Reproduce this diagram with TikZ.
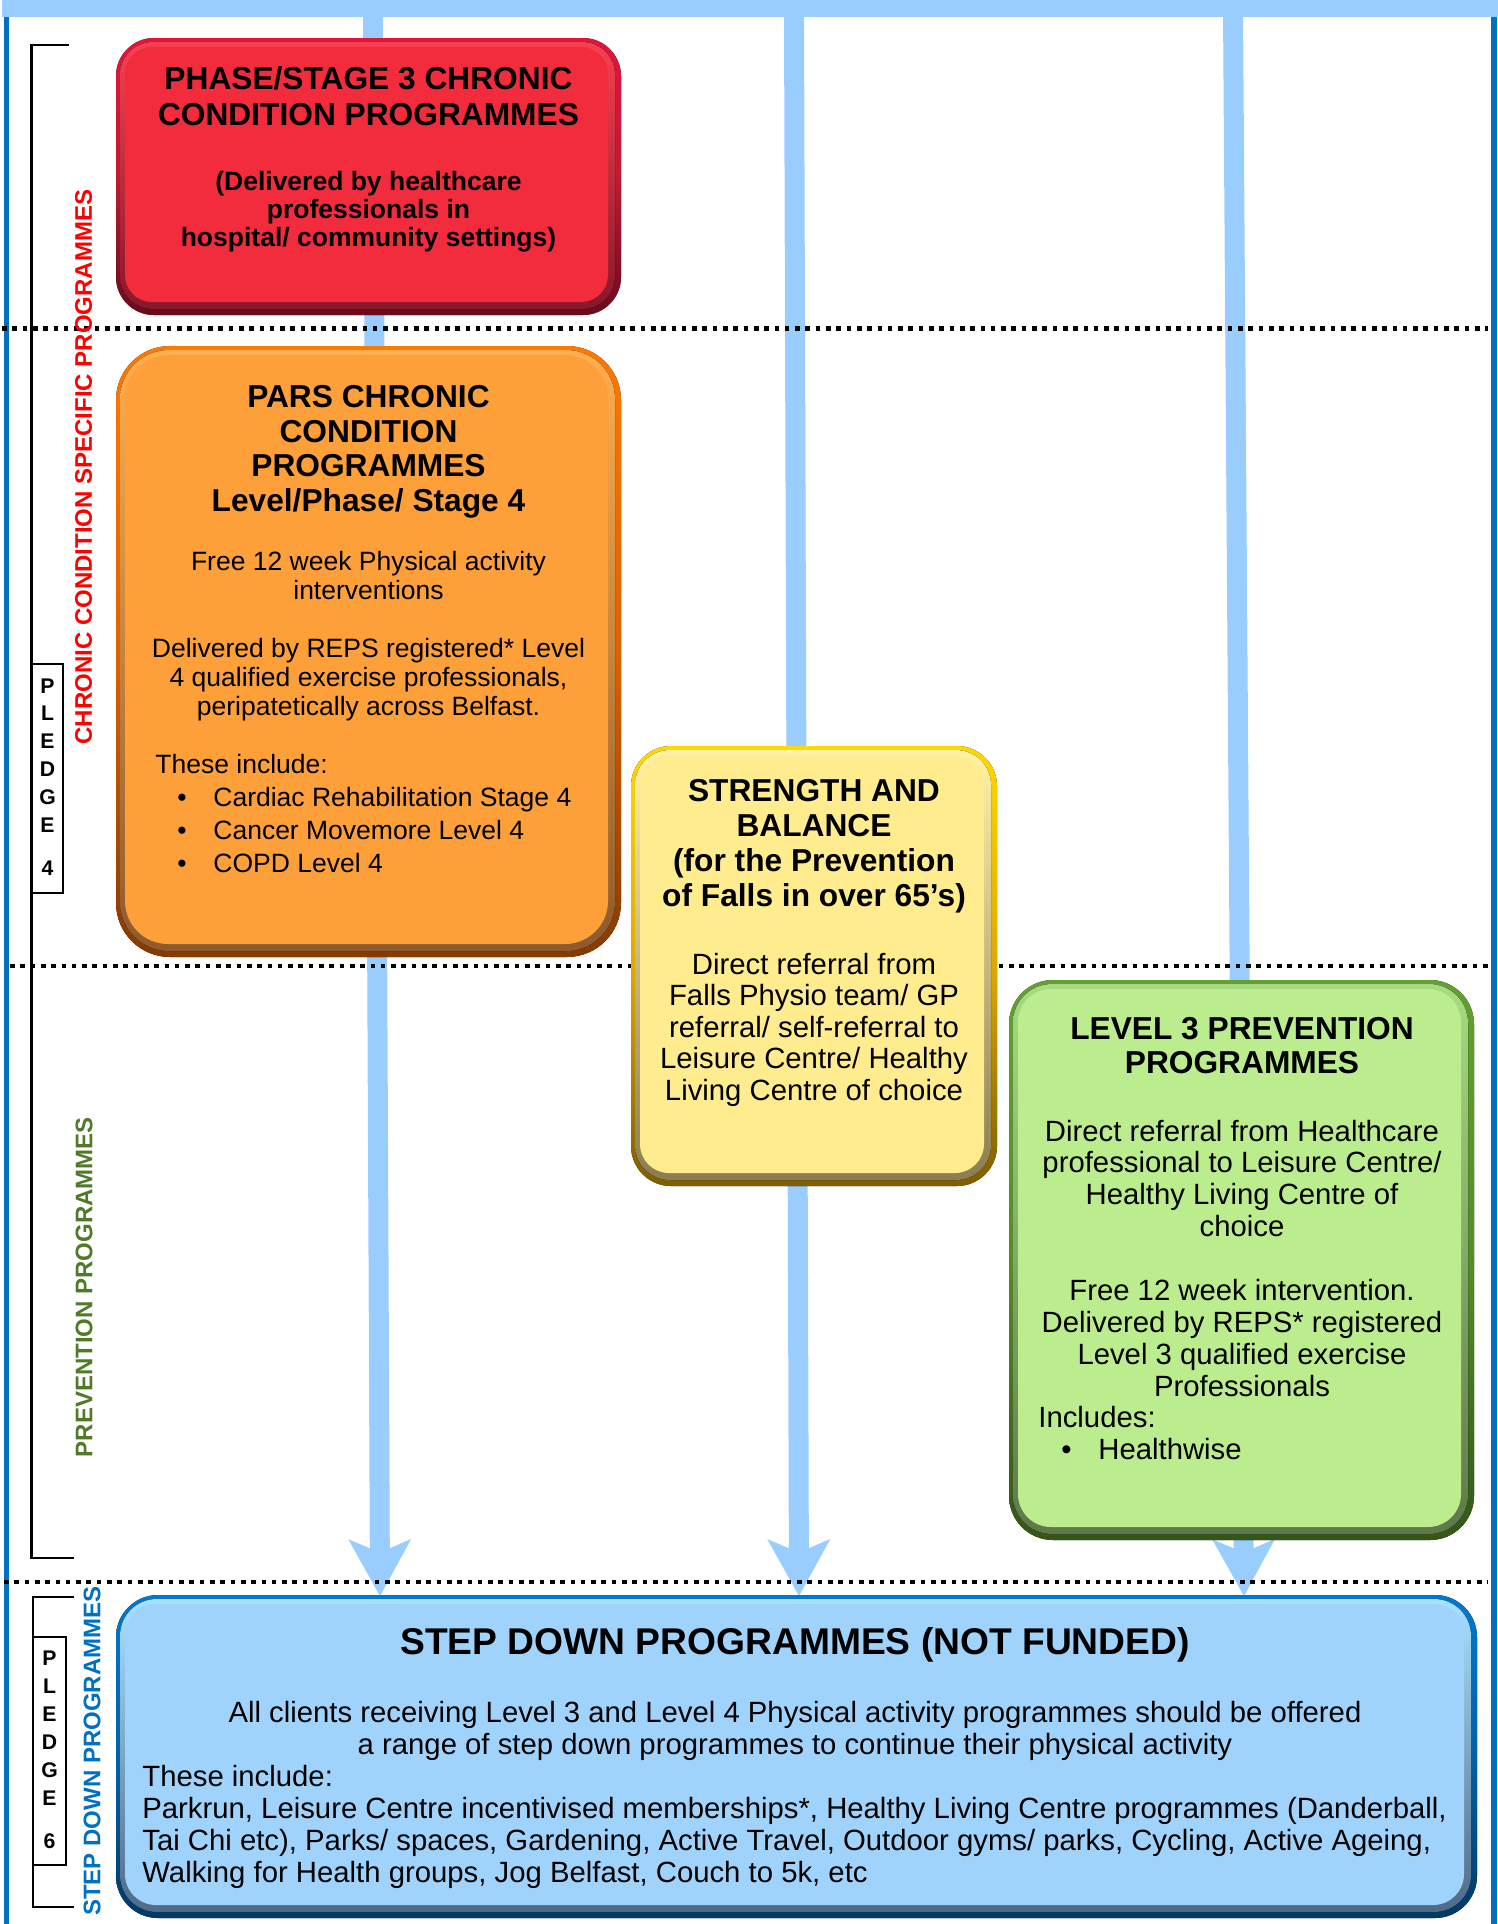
\documentclass[tikz,border=0pt]{standalone}
\usepackage{fontspec}
\setmainfont{Liberation Sans}
\usetikzlibrary{arrows.meta}
\definecolor{arrowblue}{HTML}{99CCFF}
\definecolor{lineblue}{HTML}{0070C0}
\definecolor{lblred}{HTML}{FF0000}
\definecolor{lblgreen}{HTML}{4F7A28}
\definecolor{lblblue}{HTML}{0070C0}
\definecolor{redrt}{HTML}{E3143C}\definecolor{redrm}{HTML}{C01A32}\definecolor{redrb}{HTML}{6A0A1C}
\definecolor{redbt}{HTML}{F7404F}\definecolor{redbb}{HTML}{86182A}\definecolor{redf}{HTML}{F22B3D}
\definecolor{orart}{HTML}{FF7800}\definecolor{orarm}{HTML}{DD6200}\definecolor{orarb}{HTML}{863A00}
\definecolor{orabt}{HTML}{FFAE4E}\definecolor{orabb}{HTML}{8E5A2C}\definecolor{oraf}{HTML}{FDA03A}
\definecolor{yelrt}{HTML}{FFD800}\definecolor{yelrm}{HTML}{E0A800}\definecolor{yelrb}{HTML}{7E5E00}
\definecolor{yelbt}{HTML}{FFF2A6}\definecolor{yelbb}{HTML}{8C7C52}\definecolor{yelf}{HTML}{FFEC8F}
\definecolor{grnrt}{HTML}{62A030}\definecolor{grnrm}{HTML}{558C28}\definecolor{grnrb}{HTML}{345618}
\definecolor{grnbt}{HTML}{A8DA82}\definecolor{grnbb}{HTML}{5E784A}\definecolor{grnf}{HTML}{BBEC8E}
\definecolor{blurt}{HTML}{0078CF}\definecolor{blurm}{HTML}{0062A8}\definecolor{blurb}{HTML}{003A66}
\definecolor{blubt}{HTML}{A8E0FF}\definecolor{blubb}{HTML}{4E6A88}\definecolor{bluf}{HTML}{9FD3FC}

\newcommand\bevbox[6]{% x1 y1 x2 y2 radius(px) colour prefix
  \pgfmathsetmacro\bbra{#5/2}%
  \pgfmathsetmacro\bbrb{(#5-5)/2}%
  \pgfmathsetmacro\bbrc{(#5-11)/2}%
  \fill[top color=#6rt, bottom color=#6rb, middle color=#6rm, rounded corners=\bbra pt] (#1,#2) rectangle (#3,#4);
  \fill[top color=#6bt, bottom color=#6bb, rounded corners=\bbrb pt] ({#1+4},{#2+4}) rectangle ({#3-6},{#4-6});
  \fill[#6f, rounded corners=\bbrc pt] ({#1+9},{#2+9}) rectangle ({#3-13},{#4-13});
}
\newcommand\tlines[6]{% name prefix, x, first baseline, step, style, list
  \foreach \lntext [count=\lnidx] in {#6}{%
    \node[#5] (#1\lnidx) at (#2,{#3+(\lnidx-1)*#4}) {\lntext};
  }%
}

\tikzset{
  ttl/.style={font=\fontsize{15.85}{19}\selectfont\bfseries, inner sep=0, anchor=base},
  bigttl/.style={font=\fontsize{18.6}{22}\selectfont\bfseries, inner sep=0, anchor=base},
  bsb/.style={font=\fontsize{13.25}{15}\selectfont\bfseries, inner sep=0, anchor=base},
  bs/.style={font=\fontsize{13.25}{15}\selectfont, inner sep=0, anchor=base},
  bsw/.style={bs, anchor=base west},
  bl/.style={font=\fontsize{14.65}{17}\selectfont, inner sep=0, anchor=base},
  blw/.style={bl, anchor=base west},
  side/.style={font=\fontsize{12}{14}\selectfont\bfseries, inner sep=0, rotate=90},
  pl/.style={font=\fontsize{10.6}{12}\selectfont\bfseries, inner sep=0, anchor=base},
  brk/.style={line width=1.4pt, black},
  dotln/.style={line width=2.4pt, dash pattern=on 2.3pt off 2.85pt, black},
  flow/.style={arrowblue, line width=10pt,
    -{Stealth[length=28.5pt, width=31.5pt, inset=6.8pt, line width=0pt]}},
}

\begin{document}
\begin{tikzpicture}[x=0.5pt,y=-0.5pt]
\useasboundingbox (0,0) rectangle (1498,1924);

% frame lines
\fill[lineblue] (4,0) rectangle (9,1924);
\fill[lineblue] (1491,0) rectangle (1497,1924);
\fill[arrowblue] (2,0) rectangle (1498,16.5);

% flow arrows
\coordinate (a1s) at (373,8);   \coordinate (a1e) at (380,1596);
\coordinate (a2s) at (794,8);   \coordinate (a2e) at (799,1596);
\coordinate (a3s) at (1233,8);  \coordinate (a3e) at (1244,1596);
\draw[flow] (a1s) -- (a1e);
\draw[flow] (a2s) -- (a2e);
\draw[flow] (a3s) -- (a3e);

% dotted separators
\draw[dotln] (2,328.5) -- (1488,328.5);
\draw[dotln] (10,966) -- (1488,966);
\draw[dotln] (4,1582) -- (1488,1582);

% brackets and pledge boxes
\draw[brk] (69,45) -- (31.5,45) -- (31.5,1558) -- (74,1558);
\draw[brk, fill=white] (31.5,664) rectangle (63,893);
\draw[brk] (74,1597) -- (33,1597) -- (33,1907) -- (74,1907);
\draw[brk, fill=white] (33,1637) rectangle (66,1865);
\tlines{pA}{47.5}{693}{27.8}{pl}{P,L,E,D,G,E}
\node[pl] (pA7) at (47.5,875) {4};
\tlines{pB}{49.5}{1665.5}{28}{pl}{P,L,E,D,G,E}
\node[pl] (pB7) at (49.5,1848.5) {6};

% side labels
\node[side, text=lblred] (lblA) at (83.5,467) {CHRONIC CONDITION SPECIFIC PROGRAMMES};
\node[side, text=lblgreen] (lblB) at (84,1287) {PREVENTION PROGRAMMES};
\node[side, text=lblblue] (lblC) at (92,1751) {STEP DOWN PROGRAMMES};

% boxes
\bevbox{116}{38}{621}{315}{38}{red}
\bevbox{116}{346}{621}{957}{54}{ora}
\bevbox{631}{746}{997}{1186}{40}{yel}
\bevbox{1009}{980}{1474}{1540}{44}{grn}
\bevbox{116}{1595}{1477}{1918}{42}{blu}

% red box text
\tlines{rT}{368.5}{89.3}{35.7}{ttl}{{PHASE/STAGE 3 CHRONIC},{CONDITION PROGRAMMES}}
\tlines{rB}{368.5}{190.5}{28}{bsb}{{(Delivered by healthcare},{professionals in},{hospital/ community settings)}}

% orange box text
\tlines{oT}{368.5}{407.5}{34.6}{ttl}{{PARS CHRONIC},{CONDITION},{PROGRAMMES},{Level/Phase/ Stage 4}}
\tlines{oA}{368.5}{570.5}{29}{bs}{{Free 12 week Physical activity},{interventions}}
\tlines{oB}{368.5}{657.6}{29}{bs}{{Delivered by REPS registered* Level},{4 qualified exercise professionals,},{peripatetically across Belfast.}}
\node[bsw] (oInc) at (155,773.6) {These include:};
\tlines{oDot}{182}{806}{33}{bs}{•,•,•}
\tlines{oItem}{213}{806}{33}{bsw}{{Cardiac Rehabilitation Stage 4},{Cancer Movemore Level 4},{COPD Level 4}}

% yellow box text
\tlines{yT}{814}{801}{35.3}{ttl}{{STRENGTH AND},{BALANCE},{(for the Prevention},{of Falls in over 65’s)}}
\tlines{yB}{814}{974}{31.6}{bl}{{Direct referral from},{Falls Physio team/ GP},{referral/ self-referral to},{Leisure Centre/ Healthy},{Living Centre of choice}}

% green box text
\tlines{gT}{1242}{1039}{34}{ttl}{{LEVEL 3 PREVENTION},{PROGRAMMES}}
\tlines{gA}{1242}{1141}{31.8}{bl}{{Direct referral from Healthcare},{professional to Leisure Centre/},{Healthy Living Centre of},{choice}}
\tlines{gB}{1242}{1300}{32}{bl}{{Free 12 week intervention.},{Delivered by REPS* registered},{Level 3 qualified exercise},{Professionals}}
\node[blw] (gInc) at (1038,1427) {Includes:};
\node[bl] (gDot) at (1066.5,1459) {•};
\node[blw] (gItem) at (1098,1459) {Healthwise};

% step down box text
\node[bigttl] (sT) at (795,1654) {STEP DOWN PROGRAMMES (NOT FUNDED)};
\tlines{sA}{795}{1722}{32}{bl}{{All clients receiving Level 3 and Level 4 Physical activity programmes should be offered},{a range of step down programmes to continue their physical activity}}
\tlines{sB}{142}{1786}{32}{blw}{{These include:},{Parkrun, Leisure Centre incentivised memberships*, Healthy Living Centre programmes (Danderball,},{Tai Chi etc), Parks/ spaces, Gardening, Active Travel, Outdoor gyms/ parks, Cycling, Active Ageing,},{Walking for Health groups, Jog Belfast, Couch to 5k, etc}}
\end{tikzpicture}
\end{document}
